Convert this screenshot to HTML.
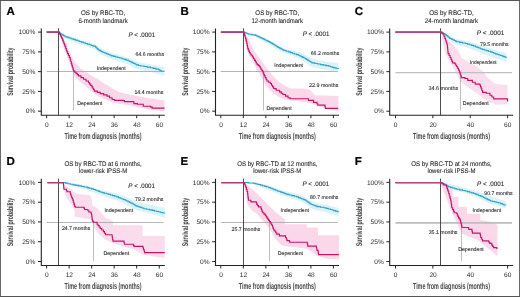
<!DOCTYPE html>
<html><head><meta charset="utf-8"><style>
html,body{margin:0;padding:0;background:#fff;}
svg{display:block;font-family:"Liberation Sans", sans-serif;will-change:transform;text-rendering:geometricPrecision;}
</style></head><body>
<svg width="520" height="297" viewBox="0 0 520 297">
<rect x="0" y="0" width="520" height="297" fill="#fff"/>
<g><text x="6.4" y="14.7" font-size="11.5" font-weight="bold" fill="#000" stroke="#000" stroke-width="0.2">A</text><text x="103.1" y="15.4" font-size="6.7" text-anchor="middle" fill="#1a1a1a" textLength="44.1" lengthAdjust="spacingAndGlyphs" stroke="#1a1a1a" stroke-width="0.07">OS by RBC-TD,</text><text x="103.1" y="22.8" font-size="6.7" text-anchor="middle" fill="#1a1a1a" textLength="49.4" lengthAdjust="spacingAndGlyphs" stroke="#1a1a1a" stroke-width="0.07">6-month landmark</text><polygon points="58.4,32.1 62,33.2 66,34.8 75,37.8 85,41 95,44.2 100,47.5 104,49.8 112,53 120,55.2 128,57.6 136,61.2 141,62.8 150,64.2 158,65.8 164.3,67 164.3,76 158,74 150,72 141,70 136,68.8 128,64.4 119,61.4 111,59 103,55.4 99,53.2 95,49.6 85,46 75,42.4 65,38.6 60,35 58.4,32.1" fill="#daf3f9"/><polygon points="58.4,32.1 60.5,33.5 63.5,38 66.5,44 68.5,49.5 71,55 73.5,60 76.7,64.5 80,68 84,70.5 86.8,72.6 91,75.5 96.9,78.5 102,82 107,85.2 112,88 118.8,91.9 125,93.5 132,95 140,96.5 150,98.5 158,99.5 164.6,100.5 164.6,111.2 150,109.5 140,107.5 130,105.5 120,103.7 113.8,102.9 103.7,98.7 97,95.5 91.9,91.9 86.8,86.9 80.1,81.8 73.4,75.1 71.5,68.5 69.5,63 67,57 64.5,50 62,43 59.5,36 58.4,32.1" fill="#f9d3e7" fill-opacity="0.9"/><line x1="46.6" y1="71.5" x2="163.62" y2="71.5" stroke="#a2a2a2" stroke-width="0.8"/><line x1="73.5" y1="71.65" x2="73.5" y2="110.5" stroke="#a2a2a2" stroke-width="0.7"/><line x1="58.5" y1="28.3" x2="58.5" y2="115.2" stroke="#3a3a3a" stroke-width="0.9"/><polyline points="46.7,32.1 58.4,32.1 59.27,32.1 59.27,32.73 60.13,32.73 60.13,33.37 61,33.37 61,34 62.02,34 62.02,34.67 63.05,34.67 63.05,35.35 64.07,35.35 64.07,36.03 65.1,36.03 65.1,36.7 67.12,36.7 67.12,37.38 69.14,37.38 69.14,38.06 71.16,38.06 71.16,38.74 73.18,38.74 73.18,39.42 75.2,39.42 75.2,40.1 77.22,40.1 77.22,40.78 79.24,40.78 79.24,41.46 81.26,41.46 81.26,42.14 83.28,42.14 83.28,42.82 85.3,42.82 85.3,43.5 87.26,43.5 87.26,44.16 89.22,44.16 89.22,44.82 91.18,44.82 91.18,45.48 93.14,45.48 93.14,46.14 95.1,46.14 95.1,46.8 95.78,46.8 95.78,47.4 96.47,47.4 96.47,48 97.15,48 97.15,48.6 97.83,48.6 97.83,49.2 98.52,49.2 98.52,49.8 99.2,49.8 99.2,50.4 100.22,50.4 100.22,50.92 101.25,50.92 101.25,51.45 102.28,51.45 102.28,51.98 103.3,51.98 103.3,52.5 104.96,52.5 104.96,53.18 106.62,53.18 106.62,53.86 108.28,53.86 108.28,54.54 109.94,54.54 109.94,55.22 111.6,55.22 111.6,55.9 113.67,55.9 113.67,56.42 115.75,56.42 115.75,56.95 117.83,56.95 117.83,57.48 119.9,57.48 119.9,58 121.97,58 121.97,58.7 124.05,58.7 124.05,59.4 126.12,59.4 126.12,60.1 128.2,60.1 128.2,60.8 129.6,60.8 129.6,61.48 131,61.48 131,62.17 132.4,62.17 132.4,62.85 133.8,62.85 133.8,63.53 135.2,63.53 135.2,64.22 136.6,64.22 136.6,64.9 138.65,64.9 138.65,65.45 140.7,65.45 140.7,66 143.93,66 143.93,66.57 147.17,66.57 147.17,67.13 150.4,67.13 150.4,67.7 153.17,67.7 153.17,68.4 155.93,68.4 155.93,69.1 158.7,69.1 158.7,69.8 159.63,69.8 159.63,70.27 160.57,70.27 160.57,70.73 161.5,70.73 161.5,71.2 164.3,71.2 164.3,71.6" fill="none" stroke="#36a1c4" stroke-width="1.1"/><polyline points="46.7,32.1 58.4,32.1 59.45,32.1 59.45,34.1 60.5,34.1 60.5,36.1 61.55,36.1 61.55,38.1 62.6,38.1 62.6,40.1 63.23,40.1 63.23,41.77 63.85,41.77 63.85,43.45 64.47,43.45 64.47,45.12 65.1,45.12 65.1,46.8 65.72,46.8 65.72,48.5 66.35,48.5 66.35,50.2 66.97,50.2 66.97,51.9 67.6,51.9 67.6,53.6 68.47,53.6 68.47,55.57 69.33,55.57 69.33,57.53 70.2,57.53 70.2,59.5 70.73,59.5 70.73,61.47 71.27,61.47 71.27,63.43 71.8,63.43 71.8,65.4 72.37,65.4 72.37,67.27 72.93,67.27 72.93,69.13 73.5,69.13 73.5,71 74.75,71 74.75,72.2 76,72.2 76,73.4 77.2,73.4 77.2,74.65 78.4,74.65 78.4,75.9 80.95,75.9 80.95,77.6 83.5,77.6 83.5,79.3 86,79.3 86,81 88.5,81 88.5,82.7 89.63,82.7 89.63,84.1 90.77,84.1 90.77,85.5 91.9,85.5 91.9,86.9 92.73,86.9 92.73,88.3 93.57,88.3 93.57,89.7 94.4,89.7 94.4,91.1 97.35,91.1 97.35,92.35 100.3,92.35 100.3,93.6 103.65,93.6 103.65,94.85 107,94.85 107,96.1 109.55,96.1 109.55,97.8 112.1,97.8 112.1,99.5 114.6,99.5 114.6,100.4 123.3,100.4 123.3,100.6 124.4,100.6 124.4,101.6 132.7,101.6 133.9,101.6 133.9,103.6 137.4,103.6 137.4,104.2 143.3,104.2 143.3,106.2 150.4,106.2 150.4,106.9 152.1,106.9 152.1,108.1 164.5,108.1" fill="none" stroke="#c3156b" stroke-width="1.1"/><line x1="46.7" y1="32.1" x2="58.4" y2="32.1" stroke="#b03a7a" stroke-width="1.15"/><path d="M41.3,28.5V115.2H164.8" fill="none" stroke="#222" stroke-width="1.1"/><line x1="38" y1="32.1" x2="41.3" y2="32.1" stroke="#222" stroke-width="1"/><text x="35.4" y="34.3" font-size="6.6" text-anchor="end" fill="#2a2a2a">100%</text><line x1="38" y1="51.88" x2="41.3" y2="51.88" stroke="#222" stroke-width="1"/><text x="35.4" y="54.08" font-size="6.6" text-anchor="end" fill="#2a2a2a">75%</text><line x1="38" y1="71.65" x2="41.3" y2="71.65" stroke="#222" stroke-width="1"/><text x="35.4" y="73.85" font-size="6.6" text-anchor="end" fill="#2a2a2a">50%</text><line x1="38" y1="91.43" x2="41.3" y2="91.43" stroke="#222" stroke-width="1"/><text x="35.4" y="93.63" font-size="6.6" text-anchor="end" fill="#2a2a2a">25%</text><line x1="38" y1="111.2" x2="41.3" y2="111.2" stroke="#222" stroke-width="1"/><text x="35.4" y="113.4" font-size="6.6" text-anchor="end" fill="#2a2a2a">0%</text><line x1="46.6" y1="115.2" x2="46.6" y2="118.2" stroke="#222" stroke-width="1"/><text x="46.8" y="126.6" font-size="6.6" text-anchor="middle" fill="#2a2a2a">0</text><line x1="69.12" y1="115.2" x2="69.12" y2="118.2" stroke="#222" stroke-width="1"/><text x="69.32" y="126.6" font-size="6.6" text-anchor="middle" fill="#2a2a2a">12</text><line x1="91.65" y1="115.2" x2="91.65" y2="118.2" stroke="#222" stroke-width="1"/><text x="91.85" y="126.6" font-size="6.6" text-anchor="middle" fill="#2a2a2a">24</text><line x1="114.17" y1="115.2" x2="114.17" y2="118.2" stroke="#222" stroke-width="1"/><text x="114.37" y="126.6" font-size="6.6" text-anchor="middle" fill="#2a2a2a">36</text><line x1="136.7" y1="115.2" x2="136.7" y2="118.2" stroke="#222" stroke-width="1"/><text x="136.9" y="126.6" font-size="6.6" text-anchor="middle" fill="#2a2a2a">48</text><line x1="159.22" y1="115.2" x2="159.22" y2="118.2" stroke="#222" stroke-width="1"/><text x="159.42" y="126.6" font-size="6.6" text-anchor="middle" fill="#2a2a2a">60</text><text x="103.05" y="139" font-size="8.9" text-anchor="middle" font-weight="bold" fill="#484848" textLength="77" lengthAdjust="spacingAndGlyphs">Time from diagnosis (months)</text><g transform="translate(13.3,71.7) rotate(-90)"><text x="0" y="0" font-size="8.4" text-anchor="middle" font-weight="bold" fill="#383838" textLength="48.3" lengthAdjust="spacingAndGlyphs">Survival probability</text></g><text x="135.6" y="56" font-size="5.3" fill="#222" textLength="28.4" lengthAdjust="spacingAndGlyphs" stroke="#222" stroke-width="0.08">64.6 months</text><text x="96.8" y="69.6" font-size="5.3" fill="#222" textLength="28.8" lengthAdjust="spacingAndGlyphs" stroke="#222" stroke-width="0.08">Independent</text><text x="134.4" y="93.9" font-size="5.3" fill="#222" textLength="28.9" lengthAdjust="spacingAndGlyphs" stroke="#222" stroke-width="0.08">14.4 months</text><text x="77.3" y="105.3" font-size="5.3" fill="#222" textLength="25" lengthAdjust="spacingAndGlyphs" stroke="#222" stroke-width="0.08">Dependent</text><text x="128.4" y="37.2" font-size="6.5" fill="#1a1a1a" stroke="#1a1a1a" stroke-width="0.08" textLength="26.8" lengthAdjust="spacingAndGlyphs"><tspan font-style="italic">P</tspan> &lt; .0001</text></g><g><text x="180.6" y="14.7" font-size="11.5" font-weight="bold" fill="#000" stroke="#000" stroke-width="0.2">B</text><text x="277.3" y="15.4" font-size="6.7" text-anchor="middle" fill="#1a1a1a" textLength="43.9" lengthAdjust="spacingAndGlyphs" stroke="#1a1a1a" stroke-width="0.07">OS by RBC-TD,</text><text x="277.3" y="22.8" font-size="6.7" text-anchor="middle" fill="#1a1a1a" textLength="51.6" lengthAdjust="spacingAndGlyphs" stroke="#1a1a1a" stroke-width="0.07">12-month landmark</text><polygon points="243.6,32.1 248,33 255,34 262,36.5 270,40.5 277,44.5 284,48.5 290,50 300,51.9 305,55 312,58.5 320,60.5 329,62 338.3,62.9 338.3,72.1 329,70.5 320,68.8 312,67 305,62.5 300,59 290,55 284,53.5 277,49.5 270,45 262,40.5 255,37 248,35.6 243.6,32.1" fill="#daf3f9"/><polygon points="243.6,32.1 245.5,34 248,38 250.5,43 253.7,50 257,55 260.5,60 265,65.5 269.5,71.7 274,77 278.7,81.8 283,84.5 287.1,86.9 292,88.6 305,88.6 310,90 315,95.3 338.3,96.1 338.3,111 325,108.8 318,106 310,103 300,101.2 290.5,100.4 284,99 278.7,97 273,93 268.6,88.6 265,83.5 261.9,78.5 259.5,74 257,69.5 254,64 251,58.5 248,53 246.3,48 244.8,40 243.6,32.1" fill="#f9d3e7" fill-opacity="0.9"/><line x1="220.8" y1="71.5" x2="337.82" y2="71.5" stroke="#a2a2a2" stroke-width="0.8"/><line x1="263.5" y1="71.65" x2="263.5" y2="110.5" stroke="#a2a2a2" stroke-width="0.7"/><line x1="243.5" y1="28.3" x2="243.5" y2="115.2" stroke="#3a3a3a" stroke-width="0.9"/><polyline points="220.9,32.1 243.6,32.1 244.88,32.1 244.88,32.65 246.15,32.65 246.15,33.2 247.42,33.2 247.42,33.75 248.7,33.75 248.7,34.3 252.05,34.3 252.05,34.85 255.4,34.85 255.4,35.4 256.74,35.4 256.74,36.02 258.08,36.02 258.08,36.64 259.42,36.64 259.42,37.26 260.76,37.26 260.76,37.88 262.1,37.88 262.1,38.5 263.31,38.5 263.31,39.1 264.53,39.1 264.53,39.7 265.74,39.7 265.74,40.3 266.96,40.3 266.96,40.9 268.17,40.9 268.17,41.5 269.39,41.5 269.39,42.1 270.6,42.1 270.6,42.7 271.72,42.7 271.72,43.4 272.83,43.4 272.83,44.1 273.95,44.1 273.95,44.8 275.07,44.8 275.07,45.5 276.18,45.5 276.18,46.2 277.3,46.2 277.3,46.9 278.42,46.9 278.42,47.5 279.53,47.5 279.53,48.1 280.65,48.1 280.65,48.7 281.77,48.7 281.77,49.3 282.88,49.3 282.88,49.9 284,49.9 284,50.5 286.2,50.5 286.2,51.2 288.4,51.2 288.4,51.9 290.42,51.9 290.42,52.58 292.44,52.58 292.44,53.26 294.46,53.26 294.46,53.94 296.48,53.94 296.48,54.62 298.5,54.62 298.5,55.3 299.86,55.3 299.86,55.98 301.22,55.98 301.22,56.66 302.58,56.66 302.58,57.34 303.94,57.34 303.94,58.02 305.3,58.02 305.3,58.7 306.42,58.7 306.42,59.4 307.53,59.4 307.53,60.1 308.65,60.1 308.65,60.8 309.77,60.8 309.77,61.5 310.88,61.5 310.88,62.2 312,62.2 312,62.9 314.8,62.9 314.8,63.47 317.6,63.47 317.6,64.03 320.4,64.03 320.4,64.6 323.2,64.6 323.2,65.13 326,65.13 326,65.67 328.8,65.67 328.8,66.2 330.5,66.2 330.5,66.77 332.2,66.77 332.2,67.33 333.9,67.33 333.9,67.9 336.1,67.9 336.1,68.5 338.3,68.5 338.3,69.1" fill="none" stroke="#36a1c4" stroke-width="1.1"/><polyline points="220.9,32.1 243.6,32.1 244.1,32.1 244.1,33.72 244.6,33.72 244.6,35.34 245.1,35.34 245.1,36.96 245.6,36.96 245.6,38.58 246.1,38.58 246.1,40.2 246.44,40.2 246.44,41.88 246.78,41.88 246.78,43.56 247.12,43.56 247.12,45.24 247.46,45.24 247.46,46.92 247.8,46.92 247.8,48.6 248.37,48.6 248.37,50 248.93,50 248.93,51.4 249.5,51.4 249.5,52.8 250.35,52.8 250.35,54.05 251.2,54.05 251.2,55.3 252.33,55.3 252.33,57 253.47,57 253.47,58.7 254.6,58.7 254.6,60.4 255.43,60.4 255.43,61.8 256.27,61.8 256.27,63.2 257.1,63.2 257.1,64.6 258.35,64.6 258.35,65.65 259.6,65.65 259.6,66.7 260.3,66.7 260.3,67.95 261,67.95 261,69.2 261.85,69.2 261.85,70.45 262.7,70.45 262.7,71.7 263.27,71.7 263.27,73.1 263.83,73.1 263.83,74.5 264.4,74.5 264.4,75.9 265.23,75.9 265.23,77.6 266.07,77.6 266.07,79.3 266.9,79.3 266.9,81 268.6,81 268.6,82.25 270.3,82.25 270.3,83.5 271.43,83.5 271.43,85.2 272.57,85.2 272.57,86.9 273.7,86.9 273.7,88.6 276.2,88.6 276.2,90.3 279.6,90.3 279.6,91.9 281.25,91.9 281.25,93.2 282.9,93.2 282.9,94.5 285.5,94.5 285.5,96.1 288,96.1 288,97.8 290,97.8 290,98.7 307.7,98.7 308.5,98.7 308.5,100.4 311.9,100.4 313.6,100.4 313.6,102.4 316.1,102.4 316.95,102.4 316.95,103.75 317.8,103.75 317.8,105.1 324.5,105.1 324.95,105.1 324.95,106.75 325.4,106.75 325.4,108.4 338.3,108.4" fill="none" stroke="#c3156b" stroke-width="1.1"/><line x1="220.9" y1="32.1" x2="243.6" y2="32.1" stroke="#b03a7a" stroke-width="1.15"/><path d="M215.5,28.5V115.2H339" fill="none" stroke="#222" stroke-width="1.1"/><line x1="212.2" y1="32.1" x2="215.5" y2="32.1" stroke="#222" stroke-width="1"/><text x="209.6" y="34.3" font-size="6.6" text-anchor="end" fill="#2a2a2a">100%</text><line x1="212.2" y1="51.88" x2="215.5" y2="51.88" stroke="#222" stroke-width="1"/><text x="209.6" y="54.08" font-size="6.6" text-anchor="end" fill="#2a2a2a">75%</text><line x1="212.2" y1="71.65" x2="215.5" y2="71.65" stroke="#222" stroke-width="1"/><text x="209.6" y="73.85" font-size="6.6" text-anchor="end" fill="#2a2a2a">50%</text><line x1="212.2" y1="91.43" x2="215.5" y2="91.43" stroke="#222" stroke-width="1"/><text x="209.6" y="93.63" font-size="6.6" text-anchor="end" fill="#2a2a2a">25%</text><line x1="212.2" y1="111.2" x2="215.5" y2="111.2" stroke="#222" stroke-width="1"/><text x="209.6" y="113.4" font-size="6.6" text-anchor="end" fill="#2a2a2a">0%</text><line x1="220.8" y1="115.2" x2="220.8" y2="118.2" stroke="#222" stroke-width="1"/><text x="221" y="126.6" font-size="6.6" text-anchor="middle" fill="#2a2a2a">0</text><line x1="243.32" y1="115.2" x2="243.32" y2="118.2" stroke="#222" stroke-width="1"/><text x="243.52" y="126.6" font-size="6.6" text-anchor="middle" fill="#2a2a2a">12</text><line x1="265.85" y1="115.2" x2="265.85" y2="118.2" stroke="#222" stroke-width="1"/><text x="266.05" y="126.6" font-size="6.6" text-anchor="middle" fill="#2a2a2a">24</text><line x1="288.37" y1="115.2" x2="288.37" y2="118.2" stroke="#222" stroke-width="1"/><text x="288.57" y="126.6" font-size="6.6" text-anchor="middle" fill="#2a2a2a">36</text><line x1="310.9" y1="115.2" x2="310.9" y2="118.2" stroke="#222" stroke-width="1"/><text x="311.1" y="126.6" font-size="6.6" text-anchor="middle" fill="#2a2a2a">48</text><line x1="333.42" y1="115.2" x2="333.42" y2="118.2" stroke="#222" stroke-width="1"/><text x="333.62" y="126.6" font-size="6.6" text-anchor="middle" fill="#2a2a2a">60</text><text x="277.25" y="139" font-size="8.9" text-anchor="middle" font-weight="bold" fill="#484848" textLength="77" lengthAdjust="spacingAndGlyphs">Time from diagnosis (months)</text><g transform="translate(187.5,71.7) rotate(-90)"><text x="0" y="0" font-size="8.4" text-anchor="middle" font-weight="bold" fill="#383838" textLength="48.3" lengthAdjust="spacingAndGlyphs">Survival probability</text></g><text x="310.7" y="55.2" font-size="5.3" fill="#222" textLength="28.6" lengthAdjust="spacingAndGlyphs" stroke="#222" stroke-width="0.08">66.2 months</text><text x="274.2" y="67.3" font-size="5.3" fill="#222" textLength="28.8" lengthAdjust="spacingAndGlyphs" stroke="#222" stroke-width="0.08">Independent</text><text x="309.1" y="87.4" font-size="5.3" fill="#222" textLength="29.2" lengthAdjust="spacingAndGlyphs" stroke="#222" stroke-width="0.08">22.9 months</text><text x="266.6" y="109.8" font-size="5.3" fill="#222" textLength="25" lengthAdjust="spacingAndGlyphs" stroke="#222" stroke-width="0.08">Dependent</text><text x="302.7" y="35.6" font-size="6.5" fill="#1a1a1a" stroke="#1a1a1a" stroke-width="0.08" textLength="26.7" lengthAdjust="spacingAndGlyphs"><tspan font-style="italic">P</tspan> &lt; .0001</text></g><g><text x="354.8" y="14.7" font-size="11.5" font-weight="bold" fill="#000" stroke="#000" stroke-width="0.2">C</text><text x="451.5" y="15.4" font-size="6.7" text-anchor="middle" fill="#1a1a1a" textLength="44.6" lengthAdjust="spacingAndGlyphs" stroke="#1a1a1a" stroke-width="0.07">OS by RBC-TD,</text><text x="451.5" y="22.8" font-size="6.7" text-anchor="middle" fill="#1a1a1a" textLength="53.3" lengthAdjust="spacingAndGlyphs" stroke="#1a1a1a" stroke-width="0.07">24-month landmark</text><polygon points="440.6,32.1 445,33 450,36 456,39 465,40.5 470,41.8 482,45.5 490,48 497,50.5 505,52.8 506.5,53 506.5,61.5 505,61.2 497,59 490,56.5 482,53.5 470,48.6 465,46.8 457,45 450,41 445,36 440.6,32.1" fill="#daf3f9"/><polygon points="440.6,32.1 445,36 450,42 458,50 462,58 470,63 476,66 482.6,71 488,78 495.6,84.1 507.6,85 507.6,104.4 495.6,104.4 489,101.5 482.6,98 478,94 472,90 466,86 460.4,81.3 457,74 454,69 451,64 448,59 445,52 443.5,45 442,38 440.6,32.1" fill="#f9d3e7" fill-opacity="0.75"/><line x1="395.5" y1="72.7" x2="511.98" y2="72.7" stroke="#c0c0c0" stroke-width="1.3"/><line x1="460.5" y1="71.65" x2="460.5" y2="110.5" stroke="#a2a2a2" stroke-width="0.7"/><line x1="440.5" y1="28.3" x2="440.5" y2="115.2" stroke="#3a3a3a" stroke-width="0.9"/><polyline points="395.4,32.1 440.6,32.1 441.7,32.1 441.7,32.65 442.8,32.65 442.8,33.2 443.9,33.2 443.9,33.75 445,33.75 445,34.3 445.73,34.3 445.73,34.9 446.46,34.9 446.46,35.5 447.19,35.5 447.19,36.1 447.91,36.1 447.91,36.7 448.64,36.7 448.64,37.3 449.37,37.3 449.37,37.9 450.1,37.9 450.1,38.5 451.44,38.5 451.44,39.16 452.78,39.16 452.78,39.82 454.12,39.82 454.12,40.48 455.46,40.48 455.46,41.14 456.8,41.14 456.8,41.8 459.63,41.8 459.63,42.37 462.47,42.37 462.47,42.93 465.3,42.93 465.3,43.5 467.4,43.5 467.4,44.12 469.5,44.12 469.5,44.75 471.6,44.75 471.6,45.38 473.7,45.38 473.7,46 475.38,46 475.38,46.68 477.06,46.68 477.06,47.36 478.74,47.36 478.74,48.04 480.42,48.04 480.42,48.72 482.1,48.72 482.1,49.4 484.2,49.4 484.2,50.02 486.3,50.02 486.3,50.65 488.4,50.65 488.4,51.27 490.5,51.27 490.5,51.9 492.18,51.9 492.18,52.55 493.85,52.55 493.85,53.2 495.52,53.2 495.52,53.85 497.2,53.85 497.2,54.5 498.9,54.5 498.9,55.03 500.6,55.03 500.6,55.57 502.3,55.57 502.3,56.1 503.7,56.1 503.7,56.67 505.1,56.67 505.1,57.23 506.5,57.23 506.5,57.8" fill="none" stroke="#36a1c4" stroke-width="1.1"/><polyline points="395.4,32.1 440.6,32.1 441.85,32.1 441.85,33.2 443.1,33.2 443.1,34.3 443.93,34.3 443.93,36.27 444.77,36.27 444.77,38.23 445.6,38.23 445.6,40.2 446.17,40.2 446.17,42.13 446.73,42.13 446.73,44.07 447.3,44.07 447.3,46 447.5,46 447.5,47.9 447.7,47.9 447.7,49.8 447.9,49.8 447.9,51.7 448.1,51.7 448.1,53.6 449.1,53.6 449.1,55.55 450.1,55.55 450.1,57.5 450.93,57.5 450.93,59.3 451.77,59.3 451.77,61.1 452.6,61.1 452.6,62.9 454.8,62.9 454.8,63.7 455.73,63.7 455.73,65.23 456.67,65.23 456.67,66.77 457.6,66.77 457.6,68.3 458.5,68.3 458.5,70.15 459.4,70.15 459.4,72 460.03,72 460.03,73.87 460.67,73.87 460.67,75.73 461.3,75.73 461.3,77.6 465,77.6 465,78.5 467.8,78.5 467.8,80.4 472.4,80.4 472.4,82.2 475.2,82.2 475.2,84.1 479.8,84.1 479.8,85 480.5,85 480.5,86.85 481.2,86.85 481.2,88.7 481.9,88.7 481.9,90.55 482.6,90.55 482.6,92.4 486.3,92.4 486.3,93.3 490,93.3 490,95.2 491.85,95.2 491.85,97.05 493.7,97.05 493.7,98.9 507.6,98.9" fill="none" stroke="#c3156b" stroke-width="1.1"/><line x1="507.6" y1="98.4" x2="507.6" y2="101.6" stroke="#9a1a55" stroke-width="1.1"/><line x1="395.4" y1="32.1" x2="440.6" y2="32.1" stroke="#bc4588" stroke-width="1.15"/><path d="M389.7,28.5V115.2H513.2" fill="none" stroke="#222" stroke-width="1.1"/><line x1="386.4" y1="32.1" x2="389.7" y2="32.1" stroke="#222" stroke-width="1"/><text x="383.8" y="34.3" font-size="6.6" text-anchor="end" fill="#2a2a2a">100%</text><line x1="386.4" y1="51.88" x2="389.7" y2="51.88" stroke="#222" stroke-width="1"/><text x="383.8" y="54.08" font-size="6.6" text-anchor="end" fill="#2a2a2a">75%</text><line x1="386.4" y1="71.65" x2="389.7" y2="71.65" stroke="#222" stroke-width="1"/><text x="383.8" y="73.85" font-size="6.6" text-anchor="end" fill="#2a2a2a">50%</text><line x1="386.4" y1="91.43" x2="389.7" y2="91.43" stroke="#222" stroke-width="1"/><text x="383.8" y="93.63" font-size="6.6" text-anchor="end" fill="#2a2a2a">25%</text><line x1="386.4" y1="111.2" x2="389.7" y2="111.2" stroke="#222" stroke-width="1"/><text x="383.8" y="113.4" font-size="6.6" text-anchor="end" fill="#2a2a2a">0%</text><line x1="395.5" y1="115.2" x2="395.5" y2="118.2" stroke="#222" stroke-width="1"/><text x="395.7" y="126.6" font-size="6.6" text-anchor="middle" fill="#2a2a2a">0</text><line x1="432.86" y1="115.2" x2="432.86" y2="118.2" stroke="#222" stroke-width="1"/><text x="433.06" y="126.6" font-size="6.6" text-anchor="middle" fill="#2a2a2a">20</text><line x1="470.22" y1="115.2" x2="470.22" y2="118.2" stroke="#222" stroke-width="1"/><text x="470.42" y="126.6" font-size="6.6" text-anchor="middle" fill="#2a2a2a">40</text><line x1="507.58" y1="115.2" x2="507.58" y2="118.2" stroke="#222" stroke-width="1"/><text x="507.78" y="126.6" font-size="6.6" text-anchor="middle" fill="#2a2a2a">60</text><text x="451.45" y="139" font-size="8.9" text-anchor="middle" font-weight="bold" fill="#484848" textLength="77" lengthAdjust="spacingAndGlyphs">Time from diagnosis (months)</text><g transform="translate(361.7,71.7) rotate(-90)"><text x="0" y="0" font-size="8.4" text-anchor="middle" font-weight="bold" fill="#383838" textLength="48.3" lengthAdjust="spacingAndGlyphs">Survival probability</text></g><text x="480.1" y="46.3" font-size="5.3" fill="#222" textLength="28.4" lengthAdjust="spacingAndGlyphs" stroke="#222" stroke-width="0.08">79.5 months</text><text x="470" y="63.6" font-size="5.3" fill="#222" textLength="26.7" lengthAdjust="spacingAndGlyphs" stroke="#222" stroke-width="0.08">Independent</text><text x="428.6" y="89.7" font-size="5.3" fill="#222" textLength="29.6" lengthAdjust="spacingAndGlyphs" stroke="#222" stroke-width="0.08">34.6 months</text><text x="462.8" y="104.9" font-size="5.3" fill="#222" textLength="26" lengthAdjust="spacingAndGlyphs" stroke="#222" stroke-width="0.08">Dependent</text><text x="476.7" y="34.9" font-size="6.5" fill="#1a1a1a" stroke="#1a1a1a" stroke-width="0.08" textLength="27.6" lengthAdjust="spacingAndGlyphs"><tspan font-style="italic">P</tspan> &lt; .0001</text></g><g><text x="6.4" y="165" font-size="11.5" font-weight="bold" fill="#000" stroke="#000" stroke-width="0.2">D</text><text x="103.1" y="165.7" font-size="6.7" text-anchor="middle" fill="#1a1a1a" textLength="77.1" lengthAdjust="spacingAndGlyphs" stroke="#1a1a1a" stroke-width="0.07">OS by RBC-TD at 6 months,</text><text x="103.1" y="173.1" font-size="6.7" text-anchor="middle" fill="#1a1a1a" textLength="48.2" lengthAdjust="spacingAndGlyphs" stroke="#1a1a1a" stroke-width="0.07">lower-risk IPSS-M</text><polygon points="63.2,182.6 70,183 78,184 87,185.5 95,188 100,189.5 108,191.5 117,193.5 125,196.5 133,200 140,202.8 152,205 159,206.5 164.8,207.8 164.8,217.9 159,216 152,213.8 140,211.2 133,208.5 125,204 117,200.5 108,197.5 100,195 95,193 87,190 78,187.8 70,185.8 63.2,182.6" fill="#daf3f9"/><polygon points="63.2,182.6 64.5,184.5 67.6,187.6 71.4,189 75.2,193.6 82.7,194.4 90.3,195.2 91.8,199.7 92.6,205.8 96.4,207.3 99.4,210.3 105.5,217.9 110,219.4 112.9,221.5 112.9,225.3 142.5,225.3 142.5,236 164.7,236 164.7,258 143.6,254.9 134,249.6 123.5,246.4 112.9,243.2 104.4,239 97.6,232.7 93.8,226.3 92.6,222.4 90.3,219.4 82.7,217.9 74.4,216.4 74.4,210.3 72.1,205.8 69.1,201.2 65.3,195.2 63.8,189 63.2,182.6" fill="#f9d3e7" fill-opacity="0.8"/><line x1="46.6" y1="222.5" x2="163.62" y2="222.5" stroke="#a2a2a2" stroke-width="0.8"/><line x1="93.5" y1="221.95" x2="93.5" y2="260.8" stroke="#a2a2a2" stroke-width="0.7"/><line x1="58.5" y1="178.6" x2="58.5" y2="265.5" stroke="#3a3a3a" stroke-width="0.9"/><polyline points="47.5,182.6 63.2,182.6 65.57,182.6 65.57,183.17 67.93,183.17 67.93,183.73 70.3,183.73 70.3,184.3 73.1,184.3 73.1,184.83 75.9,184.83 75.9,185.37 78.7,185.37 78.7,185.9 81.5,185.9 81.5,186.47 84.3,186.47 84.3,187.03 87.1,187.03 87.1,187.6 89.2,187.6 89.2,188.25 91.3,188.25 91.3,188.9 93.4,188.9 93.4,189.55 95.5,189.55 95.5,190.2 97,190.2 97,190.8 98.5,190.8 98.5,191.4 100,191.4 100,192 102.1,192 102.1,192.6 104.2,192.6 104.2,193.2 106.3,193.2 106.3,193.8 108.4,193.8 108.4,194.4 110.5,194.4 110.5,195.03 112.6,195.03 112.6,195.65 114.7,195.65 114.7,196.28 116.8,196.28 116.8,196.9 118.5,196.9 118.5,197.58 120.2,197.58 120.2,198.26 121.9,198.26 121.9,198.94 123.6,198.94 123.6,199.62 125.3,199.62 125.3,200.3 126.7,200.3 126.7,201 128.1,201 128.1,201.7 129.5,201.7 129.5,202.4 130.9,202.4 130.9,203.1 132.3,203.1 132.3,203.8 133.7,203.8 133.7,204.5 134.53,204.5 134.53,205.03 135.37,205.03 135.37,205.57 136.2,205.57 136.2,206.1 138.1,206.1 138.1,206.75 140,206.75 140,207.4 141.9,207.4 141.9,208.05 143.8,208.05 143.8,208.7 146.6,208.7 146.6,209.27 149.4,209.27 149.4,209.83 152.2,209.83 152.2,210.4 154.43,210.4 154.43,210.93 156.67,210.93 156.67,211.47 158.9,211.47 158.9,212 160.87,212 160.87,212.47 162.83,212.47 162.83,212.93 164.8,212.93 164.8,213.4" fill="none" stroke="#36a1c4" stroke-width="1.1"/><polyline points="47.5,182.6 63.2,182.6 63.38,182.6 63.38,184.28 63.55,184.28 63.55,185.95 63.73,185.95 63.73,187.62 63.9,187.62 63.9,189.3 66,189.3 66.45,189.3 66.45,190.55 66.9,190.55 66.9,191.8 70.3,191.8 70.3,193.5 70.7,193.5 70.7,194.75 71.1,194.75 71.1,196 71.67,196 71.67,197.43 72.23,197.43 72.23,198.87 72.8,198.87 72.8,200.3 73.37,200.3 73.37,202.23 73.93,202.23 73.93,204.17 74.5,204.17 74.5,206.1 75.3,206.1 75.3,207.3 83.7,207.3 84.15,207.3 84.15,208.4 84.6,208.4 84.6,209.5 87.1,209.5 87.95,209.5 87.95,210.75 88.8,210.75 88.8,212 90.5,212 91,212 91,213.3 91.5,213.3 91.5,214.6 91.72,214.6 91.72,216.22 91.95,216.22 91.95,217.85 92.18,217.85 92.18,219.47 92.4,219.47 92.4,221.1 93.5,221.1 93.5,222.3 97,222.3 97,224.2 98.07,224.2 98.07,225.63 99.13,225.63 99.13,227.07 100.2,227.07 100.2,228.5 101.8,228.5 101.8,230.05 103.4,230.05 103.4,231.6 104.45,231.6 104.45,233.2 105.5,233.2 105.5,234.8 111.8,234.8 112.08,234.8 112.08,236.38 112.35,236.38 112.35,237.95 112.62,237.95 112.62,239.53 112.9,239.53 112.9,241.1 123.5,241.1 124,241.1 124,242.7 124.5,242.7 124.5,244.3 133,244.3 133.5,244.3 133.5,245.35 134,245.35 134,246.4 142.5,246.4 143.03,246.4 143.03,247.95 143.55,247.95 143.55,249.5 144.07,249.5 144.07,251.05 144.6,251.05 144.6,252.6 164.7,252.6" fill="none" stroke="#c3156b" stroke-width="1.1"/><line x1="47.5" y1="182.6" x2="63.2" y2="182.6" stroke="#b03a7a" stroke-width="1.15"/><path d="M41.3,178.8V265.5H164.8" fill="none" stroke="#222" stroke-width="1.1"/><line x1="38" y1="182.4" x2="41.3" y2="182.4" stroke="#222" stroke-width="1"/><text x="35.4" y="184.6" font-size="6.6" text-anchor="end" fill="#2a2a2a">100%</text><line x1="38" y1="202.18" x2="41.3" y2="202.18" stroke="#222" stroke-width="1"/><text x="35.4" y="204.38" font-size="6.6" text-anchor="end" fill="#2a2a2a">75%</text><line x1="38" y1="221.95" x2="41.3" y2="221.95" stroke="#222" stroke-width="1"/><text x="35.4" y="224.15" font-size="6.6" text-anchor="end" fill="#2a2a2a">50%</text><line x1="38" y1="241.73" x2="41.3" y2="241.73" stroke="#222" stroke-width="1"/><text x="35.4" y="243.93" font-size="6.6" text-anchor="end" fill="#2a2a2a">25%</text><line x1="38" y1="261.5" x2="41.3" y2="261.5" stroke="#222" stroke-width="1"/><text x="35.4" y="263.7" font-size="6.6" text-anchor="end" fill="#2a2a2a">0%</text><line x1="46.6" y1="265.5" x2="46.6" y2="268.5" stroke="#222" stroke-width="1"/><text x="46.8" y="276.9" font-size="6.6" text-anchor="middle" fill="#2a2a2a">0</text><line x1="69.12" y1="265.5" x2="69.12" y2="268.5" stroke="#222" stroke-width="1"/><text x="69.32" y="276.9" font-size="6.6" text-anchor="middle" fill="#2a2a2a">12</text><line x1="91.65" y1="265.5" x2="91.65" y2="268.5" stroke="#222" stroke-width="1"/><text x="91.85" y="276.9" font-size="6.6" text-anchor="middle" fill="#2a2a2a">24</text><line x1="114.17" y1="265.5" x2="114.17" y2="268.5" stroke="#222" stroke-width="1"/><text x="114.37" y="276.9" font-size="6.6" text-anchor="middle" fill="#2a2a2a">36</text><line x1="136.7" y1="265.5" x2="136.7" y2="268.5" stroke="#222" stroke-width="1"/><text x="136.9" y="276.9" font-size="6.6" text-anchor="middle" fill="#2a2a2a">48</text><line x1="159.22" y1="265.5" x2="159.22" y2="268.5" stroke="#222" stroke-width="1"/><text x="159.42" y="276.9" font-size="6.6" text-anchor="middle" fill="#2a2a2a">60</text><text x="103.05" y="289.3" font-size="8.9" text-anchor="middle" font-weight="bold" fill="#484848" textLength="77" lengthAdjust="spacingAndGlyphs">Time from diagnosis (months)</text><g transform="translate(13.3,222) rotate(-90)"><text x="0" y="0" font-size="8.4" text-anchor="middle" font-weight="bold" fill="#383838" textLength="48.3" lengthAdjust="spacingAndGlyphs">Survival probability</text></g><text x="135.1" y="200.5" font-size="5.3" fill="#222" textLength="28.3" lengthAdjust="spacingAndGlyphs" stroke="#222" stroke-width="0.08">79.2 months</text><text x="104.4" y="212.3" font-size="5.3" fill="#222" textLength="28.7" lengthAdjust="spacingAndGlyphs" stroke="#222" stroke-width="0.08">Independent</text><text x="61.9" y="230" font-size="5.3" fill="#222" textLength="28.4" lengthAdjust="spacingAndGlyphs" stroke="#222" stroke-width="0.08">24.7 months</text><text x="103.5" y="254.6" font-size="5.3" fill="#222" textLength="25.6" lengthAdjust="spacingAndGlyphs" stroke="#222" stroke-width="0.08">Dependent</text><text x="128.3" y="188.2" font-size="6.5" fill="#1a1a1a" stroke="#1a1a1a" stroke-width="0.08" textLength="26.7" lengthAdjust="spacingAndGlyphs"><tspan font-style="italic">P</tspan> &lt; .0001</text></g><g><text x="180.6" y="165" font-size="11.5" font-weight="bold" fill="#000" stroke="#000" stroke-width="0.2">E</text><text x="277.3" y="165.7" font-size="6.7" text-anchor="middle" fill="#1a1a1a" textLength="80.2" lengthAdjust="spacingAndGlyphs" stroke="#1a1a1a" stroke-width="0.07">OS by RBC-TD at 12 months,</text><text x="277.3" y="173.1" font-size="6.7" text-anchor="middle" fill="#1a1a1a" textLength="48.1" lengthAdjust="spacingAndGlyphs" stroke="#1a1a1a" stroke-width="0.07">lower-risk IPSS-M</text><polygon points="243.3,182.6 253.7,182.6 260.5,183.2 269,185.3 277,188.5 287,191.5 297,193.8 305,197 310,200.3 317,203 324,204.5 330,205.8 338.5,207.8 338.5,216.2 330,213.5 324,211.8 317,210.5 311,208.5 305,203.6 297,200 287,197.3 277,193.5 269,190 260.5,187 253.7,184.3 243.3,182.6" fill="#daf3f9"/><polygon points="243.3,182.6 246,184 249.3,186.7 256,192.6 261.9,198.5 268.6,205.3 275.4,212 282.1,217 285,220 285,224.3 306.9,224.3 307,227.6 317.8,227.6 318,235.2 338.9,235.2 338.9,259.6 325,258.5 317,255.4 306.9,248.7 285,246 281.3,245.2 274.8,237.8 270.3,230 266.9,225.5 261.9,219.6 256.8,213.7 251.8,210.3 247.6,205.3 245,190.1 244.2,185 243.3,182.6" fill="#f9d3e7" fill-opacity="0.9"/><line x1="220.8" y1="222.5" x2="337.82" y2="222.5" stroke="#a2a2a2" stroke-width="0.8"/><line x1="269.5" y1="221.95" x2="269.5" y2="260.8" stroke="#a2a2a2" stroke-width="0.7"/><line x1="243.5" y1="178.6" x2="243.5" y2="265.5" stroke="#3a3a3a" stroke-width="0.9"/><polyline points="221.4,182.6 243.3,182.6 248.5,182.6 248.5,183 253.7,183 253.7,183.4 255.97,183.4 255.97,183.97 258.23,183.97 258.23,184.53 260.5,184.53 260.5,185.1 262.6,185.1 262.6,185.72 264.7,185.72 264.7,186.35 266.8,186.35 266.8,186.97 268.9,186.97 268.9,187.6 270.58,187.6 270.58,188.28 272.26,188.28 272.26,188.96 273.94,188.96 273.94,189.64 275.62,189.64 275.62,190.32 277.3,190.32 277.3,191 278.98,191 278.98,191.55 280.65,191.55 280.65,192.1 282.32,192.1 282.32,192.65 284,192.65 284,193.2 285.35,193.2 285.35,193.8 286.7,193.8 286.7,194.4 289.23,194.4 289.23,195.03 291.75,195.03 291.75,195.65 294.27,195.65 294.27,196.28 296.8,196.28 296.8,196.9 298.5,196.9 298.5,197.58 300.2,197.58 300.2,198.26 301.9,198.26 301.9,198.94 303.6,198.94 303.6,199.62 305.3,199.62 305.3,200.3 306.27,200.3 306.27,201 307.23,201 307.23,201.7 308.2,201.7 308.2,202.4 309.17,202.4 309.17,203.1 310.13,203.1 310.13,203.8 311.1,203.8 311.1,204.5 313.07,204.5 313.07,205.2 315.03,205.2 315.03,205.9 317,205.9 317,206.6 320.4,206.6 320.4,207.2 323.8,207.2 323.8,207.8 326.03,207.8 326.03,208.37 328.27,208.37 328.27,208.93 330.5,208.93 330.5,209.5 332.18,209.5 332.18,210.05 333.85,210.05 333.85,210.6 335.52,210.6 335.52,211.15 337.2,211.15 337.2,211.7 338.5,211.7 338.5,212" fill="none" stroke="#36a1c4" stroke-width="1.1"/><polyline points="221.4,182.6 243.3,182.6 244.2,182.6 244.2,183.4 244.77,183.4 244.77,184.8 245.33,184.8 245.33,186.2 245.9,186.2 245.9,187.6 246.47,187.6 246.47,189.57 247.03,189.57 247.03,191.53 247.6,191.53 247.6,193.5 247.8,193.5 247.8,195.18 248,195.18 248,196.85 248.2,196.85 248.2,198.52 248.4,198.52 248.4,200.2 250.9,200.2 250.9,201.9 256,201.9 256.4,201.9 256.4,203.15 256.8,203.15 256.8,204.4 257.65,204.4 257.65,205.65 258.5,205.65 258.5,206.9 261,206.9 261,208.6 261.57,208.6 261.57,210 262.13,210 262.13,211.4 262.7,211.4 262.7,212.8 264,212.8 264,214.1 265.3,214.1 265.3,215.4 266.1,215.4 266.1,216.65 266.9,216.65 266.9,217.9 267.75,217.9 267.75,219.15 268.6,219.15 268.6,220.4 269.45,220.4 269.45,221.65 270.3,221.65 270.3,222.9 271.15,222.9 271.15,224.2 272,224.2 272,225.5 272.57,225.5 272.57,227 273.13,227 273.13,228.5 273.7,228.5 273.7,230 274.8,230 274.8,231.3 275.75,231.3 275.75,232.7 276.7,232.7 276.7,234.1 279.4,234.1 279.4,235.9 285,235.9 285.63,235.9 285.63,237.47 286.27,237.47 286.27,239.03 286.9,239.03 286.9,240.6 289.6,240.6 289.6,242.2 306.9,242.2 307.3,242.2 307.3,244.15 307.7,244.15 307.7,246.1 316.1,246.1 316.4,246.1 316.4,247.53 316.7,247.53 316.7,248.97 317,248.97 317,250.4 317.8,250.4 318.03,250.4 318.03,251.8 318.27,251.8 318.27,253.2 318.5,253.2 318.5,254.6 338.9,254.6" fill="none" stroke="#c3156b" stroke-width="1.1"/><line x1="221.4" y1="182.6" x2="243.3" y2="182.6" stroke="#b03a7a" stroke-width="1.15"/><path d="M215.5,178.8V265.5H339" fill="none" stroke="#222" stroke-width="1.1"/><line x1="212.2" y1="182.4" x2="215.5" y2="182.4" stroke="#222" stroke-width="1"/><text x="209.6" y="184.6" font-size="6.6" text-anchor="end" fill="#2a2a2a">100%</text><line x1="212.2" y1="202.18" x2="215.5" y2="202.18" stroke="#222" stroke-width="1"/><text x="209.6" y="204.38" font-size="6.6" text-anchor="end" fill="#2a2a2a">75%</text><line x1="212.2" y1="221.95" x2="215.5" y2="221.95" stroke="#222" stroke-width="1"/><text x="209.6" y="224.15" font-size="6.6" text-anchor="end" fill="#2a2a2a">50%</text><line x1="212.2" y1="241.73" x2="215.5" y2="241.73" stroke="#222" stroke-width="1"/><text x="209.6" y="243.93" font-size="6.6" text-anchor="end" fill="#2a2a2a">25%</text><line x1="212.2" y1="261.5" x2="215.5" y2="261.5" stroke="#222" stroke-width="1"/><text x="209.6" y="263.7" font-size="6.6" text-anchor="end" fill="#2a2a2a">0%</text><line x1="220.8" y1="265.5" x2="220.8" y2="268.5" stroke="#222" stroke-width="1"/><text x="221" y="276.9" font-size="6.6" text-anchor="middle" fill="#2a2a2a">0</text><line x1="243.32" y1="265.5" x2="243.32" y2="268.5" stroke="#222" stroke-width="1"/><text x="243.52" y="276.9" font-size="6.6" text-anchor="middle" fill="#2a2a2a">12</text><line x1="265.85" y1="265.5" x2="265.85" y2="268.5" stroke="#222" stroke-width="1"/><text x="266.05" y="276.9" font-size="6.6" text-anchor="middle" fill="#2a2a2a">24</text><line x1="288.37" y1="265.5" x2="288.37" y2="268.5" stroke="#222" stroke-width="1"/><text x="288.57" y="276.9" font-size="6.6" text-anchor="middle" fill="#2a2a2a">36</text><line x1="310.9" y1="265.5" x2="310.9" y2="268.5" stroke="#222" stroke-width="1"/><text x="311.1" y="276.9" font-size="6.6" text-anchor="middle" fill="#2a2a2a">48</text><line x1="333.42" y1="265.5" x2="333.42" y2="268.5" stroke="#222" stroke-width="1"/><text x="333.62" y="276.9" font-size="6.6" text-anchor="middle" fill="#2a2a2a">60</text><text x="277.25" y="289.3" font-size="8.9" text-anchor="middle" font-weight="bold" fill="#484848" textLength="77" lengthAdjust="spacingAndGlyphs">Time from diagnosis (months)</text><g transform="translate(187.5,222) rotate(-90)"><text x="0" y="0" font-size="8.4" text-anchor="middle" font-weight="bold" fill="#383838" textLength="48.3" lengthAdjust="spacingAndGlyphs">Survival probability</text></g><text x="310" y="198.8" font-size="5.3" fill="#222" textLength="28.4" lengthAdjust="spacingAndGlyphs" stroke="#222" stroke-width="0.08">80.7 months</text><text x="280.5" y="212.3" font-size="5.3" fill="#222" textLength="28.4" lengthAdjust="spacingAndGlyphs" stroke="#222" stroke-width="0.08">Independent</text><text x="231.6" y="230.8" font-size="5.3" fill="#222" textLength="28.8" lengthAdjust="spacingAndGlyphs" stroke="#222" stroke-width="0.08">25.7 months</text><text x="277.8" y="255.4" font-size="5.3" fill="#222" textLength="25.2" lengthAdjust="spacingAndGlyphs" stroke="#222" stroke-width="0.08">Dependent</text><text x="302.4" y="185.7" font-size="6.5" fill="#1a1a1a" stroke="#1a1a1a" stroke-width="0.08" textLength="26.7" lengthAdjust="spacingAndGlyphs"><tspan font-style="italic">P</tspan> &lt; .0001</text></g><g><text x="354.8" y="165" font-size="11.5" font-weight="bold" fill="#000" stroke="#000" stroke-width="0.2">F</text><text x="451.5" y="165.7" font-size="6.7" text-anchor="middle" fill="#1a1a1a" textLength="80.5" lengthAdjust="spacingAndGlyphs" stroke="#1a1a1a" stroke-width="0.07">OS by RBC-TD at 24 months,</text><text x="451.5" y="173.1" font-size="6.7" text-anchor="middle" fill="#1a1a1a" textLength="48.2" lengthAdjust="spacingAndGlyphs" stroke="#1a1a1a" stroke-width="0.07">lower-risk IPSS-M</text><polygon points="440.6,182.6 448,183.5 456.8,185.7 465,188 473.7,190 482,193 490.5,196 500,199.4 505.7,201.1 505.7,208.7 500,206.3 490.5,204 482,200 473.7,196 465.3,193 456.8,191 448.4,188.6 443,185.5 440.6,182.6" fill="#daf3f9"/><polygon points="440.6,182.6 446,184.5 450,186.5 452.6,188.4 452.6,196.8 458.5,196.8 458.5,207 466.9,207 466.9,213.7 480.4,213.7 480.4,220 488.8,221.5 494,223.5 497.5,225 497.5,255.5 496.5,255.4 492,251.5 486.3,247 477,239.6 470,237 462.2,234.1 459,228 456,221 453,215 451,210 449,205 447,200 445,195 443,190 441.5,186 440.6,182.6" fill="#f9d3e7" fill-opacity="0.9"/><line x1="395.5" y1="222.9" x2="511.98" y2="222.9" stroke="#bdbdbd" stroke-width="1.6"/><line x1="461.5" y1="221.95" x2="461.5" y2="260.8" stroke="#a2a2a2" stroke-width="0.7"/><line x1="440.5" y1="178.6" x2="440.5" y2="265.5" stroke="#3a3a3a" stroke-width="0.9"/><polyline points="395.4,182.6 440.6,182.6 441.8,182.6 441.8,183.05 443,183.05 443,183.5 444.08,183.5 444.08,184.14 445.16,184.14 445.16,184.78 446.24,184.78 446.24,185.42 447.32,185.42 447.32,186.06 448.4,186.06 448.4,186.7 450.5,186.7 450.5,187.35 452.6,187.35 452.6,188 454.7,188 454.7,188.65 456.8,188.65 456.8,189.3 459.63,189.3 459.63,189.87 462.47,189.87 462.47,190.43 465.3,190.43 465.3,191 467.4,191 467.4,191.62 469.5,191.62 469.5,192.25 471.6,192.25 471.6,192.88 473.7,192.88 473.7,193.5 475.36,193.5 475.36,194.16 477.02,194.16 477.02,194.82 478.68,194.82 478.68,195.48 480.34,195.48 480.34,196.14 482,196.14 482,196.8 483.42,196.8 483.42,197.5 484.83,197.5 484.83,198.2 486.25,198.2 486.25,198.9 487.67,198.9 487.67,199.6 489.08,199.6 489.08,200.3 490.5,200.3 490.5,201 492.75,201 492.75,201.5 495,201.5 495,202 496.87,202 496.87,202.53 498.73,202.53 498.73,203.07 500.6,203.07 500.6,203.6 502.3,203.6 502.3,204.27 504,204.27 504,204.93 505.7,204.93 505.7,205.6" fill="none" stroke="#36a1c4" stroke-width="1.1"/><polyline points="395.4,182.6 440.6,182.6 442,182.6 442,183.8 443.4,183.8 443.4,185 445.9,185 446.47,185 446.47,186.7 447.03,186.7 447.03,188.4 447.6,188.4 447.6,190.1 448.17,190.1 448.17,191.8 448.73,191.8 448.73,193.5 449.3,193.5 449.3,195.2 449.73,195.2 449.73,196.88 450.15,196.88 450.15,198.55 450.57,198.55 450.57,200.22 451,200.22 451,201.9 451.27,201.9 451.27,203.87 451.53,203.87 451.53,205.83 451.8,205.83 451.8,207.8 452.63,207.8 452.63,209.47 453.47,209.47 453.47,211.13 454.3,211.13 454.3,212.8 456.8,212.8 456.8,213.7 457.37,213.7 457.37,215.1 457.93,215.1 457.93,216.5 458.5,216.5 458.5,217.9 459.35,217.9 459.35,219.15 460.2,219.15 460.2,220.4 460.6,220.4 460.6,222.1 461,222.1 461,223.8 461.45,223.8 461.45,225.65 461.9,225.65 461.9,227.5 467.8,227.5 468.7,227.5 468.7,229.4 471.5,229.4 471.95,229.4 471.95,231.25 472.4,231.25 472.4,233.1 479.8,233.1 480.13,233.1 480.13,234.57 480.47,234.57 480.47,236.03 480.8,236.03 480.8,237.5 481.65,237.5 481.65,239.2 482.5,239.2 482.5,240.9 488.4,240.9 488.4,241.3 489.05,241.3 489.05,242.35 489.7,242.35 489.7,243.4 491.8,243.4 491.8,245.1 492.65,245.1 492.65,246.35 493.5,246.35 493.5,247.6 496.8,247.6 496.8,248.5 497.5,248.5" fill="none" stroke="#c3156b" stroke-width="1.1"/><line x1="395.4" y1="182.6" x2="440.6" y2="182.6" stroke="#bc4588" stroke-width="1.15"/><path d="M389.7,178.8V265.5H513.2" fill="none" stroke="#222" stroke-width="1.1"/><line x1="386.4" y1="182.4" x2="389.7" y2="182.4" stroke="#222" stroke-width="1"/><text x="383.8" y="184.6" font-size="6.6" text-anchor="end" fill="#2a2a2a">100%</text><line x1="386.4" y1="202.18" x2="389.7" y2="202.18" stroke="#222" stroke-width="1"/><text x="383.8" y="204.38" font-size="6.6" text-anchor="end" fill="#2a2a2a">75%</text><line x1="386.4" y1="221.95" x2="389.7" y2="221.95" stroke="#222" stroke-width="1"/><text x="383.8" y="224.15" font-size="6.6" text-anchor="end" fill="#2a2a2a">50%</text><line x1="386.4" y1="241.73" x2="389.7" y2="241.73" stroke="#222" stroke-width="1"/><text x="383.8" y="243.93" font-size="6.6" text-anchor="end" fill="#2a2a2a">25%</text><line x1="386.4" y1="261.5" x2="389.7" y2="261.5" stroke="#222" stroke-width="1"/><text x="383.8" y="263.7" font-size="6.6" text-anchor="end" fill="#2a2a2a">0%</text><line x1="395.5" y1="265.5" x2="395.5" y2="268.5" stroke="#222" stroke-width="1"/><text x="395.7" y="276.9" font-size="6.6" text-anchor="middle" fill="#2a2a2a">0</text><line x1="432.86" y1="265.5" x2="432.86" y2="268.5" stroke="#222" stroke-width="1"/><text x="433.06" y="276.9" font-size="6.6" text-anchor="middle" fill="#2a2a2a">20</text><line x1="470.22" y1="265.5" x2="470.22" y2="268.5" stroke="#222" stroke-width="1"/><text x="470.42" y="276.9" font-size="6.6" text-anchor="middle" fill="#2a2a2a">40</text><line x1="507.58" y1="265.5" x2="507.58" y2="268.5" stroke="#222" stroke-width="1"/><text x="507.78" y="276.9" font-size="6.6" text-anchor="middle" fill="#2a2a2a">60</text><text x="451.45" y="289.3" font-size="8.9" text-anchor="middle" font-weight="bold" fill="#484848" textLength="77" lengthAdjust="spacingAndGlyphs">Time from diagnosis (months)</text><g transform="translate(361.7,222) rotate(-90)"><text x="0" y="0" font-size="8.4" text-anchor="middle" font-weight="bold" fill="#383838" textLength="48.3" lengthAdjust="spacingAndGlyphs">Survival probability</text></g><text x="484.3" y="194.6" font-size="5.3" fill="#222" textLength="28.4" lengthAdjust="spacingAndGlyphs" stroke="#222" stroke-width="0.08">90.7 months</text><text x="472.5" y="212.3" font-size="5.3" fill="#222" textLength="28.7" lengthAdjust="spacingAndGlyphs" stroke="#222" stroke-width="0.08">Independent</text><text x="428.7" y="234.4" font-size="5.3" fill="#222" textLength="28.7" lengthAdjust="spacingAndGlyphs" stroke="#222" stroke-width="0.08">35.1 months</text><text x="458.2" y="251.2" font-size="5.3" fill="#222" textLength="25.6" lengthAdjust="spacingAndGlyphs" stroke="#222" stroke-width="0.08">Dependent</text><text x="477.1" y="185.7" font-size="6.5" fill="#1a1a1a" stroke="#1a1a1a" stroke-width="0.08" textLength="27.2" lengthAdjust="spacingAndGlyphs"><tspan font-style="italic">P</tspan> &lt; .0001</text></g>
<rect x="0" y="0" width="1" height="297" fill="#6a6a6a"/><rect x="519" y="0" width="1" height="297" fill="#6a6a6a"/><rect x="0" y="0" width="520" height="1" fill="#555"/><rect x="0" y="296" width="520" height="1" fill="#555"/>
</svg></body></html>
